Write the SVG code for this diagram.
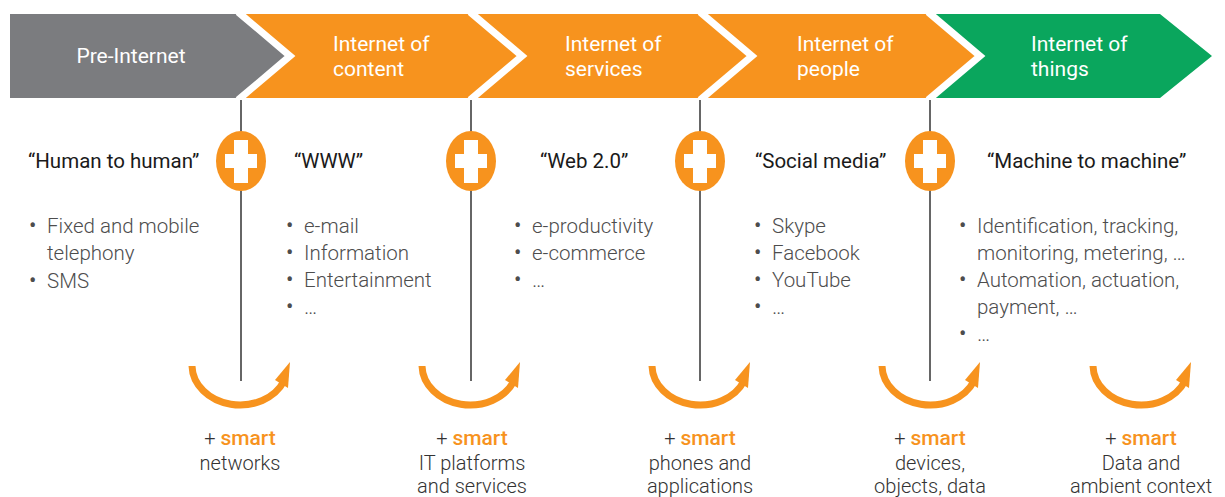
<svg xmlns="http://www.w3.org/2000/svg" width="1225" height="497" viewBox="0 0 1225 497">
<defs>
<style>
.hdr{font-family:Roboto,"Liberation Sans",sans-serif;font-size:21px;fill:#fff}
.ttl{font-family:Roboto,"Liberation Sans",sans-serif;font-size:20.5px;fill:#1a1a1a}
.bul{font-family:Roboto,"Liberation Sans",sans-serif;font-size:20.5px;fill:#4d4d4d;font-weight:300}
.dot{font-family:Roboto,"Liberation Sans",sans-serif;font-size:22px;fill:#4d4d4d}
.bot{font-family:Roboto,"Liberation Sans",sans-serif;font-size:20px;fill:#333;font-weight:300;text-anchor:middle}
.sm{fill:#f7931e;font-weight:500;font-size:21px}
.vline{stroke:#333;stroke-width:1.5}
.arc{fill:none;stroke:#f7931e;stroke-width:7}
.sep{fill:none;stroke:#fff;stroke-width:7}
</style>
<g id="plus">
<ellipse cx="0" cy="0" rx="25" ry="30" fill="#f7931e"/>
<rect x="-7" y="-21" width="14" height="43" fill="#fff"/>
<rect x="-16" y="-7" width="32" height="14" fill="#fff"/>
</g>
<g id="turn">
<path class="arc" d="M-48,0 A48,40 0 0 0 44,15"/>
<polygon points="50,-4 48,22 35,14" fill="#f7931e"/>
</g>
</defs>
<rect width="1225" height="497" fill="#fff"/>

<g id="stage-pre-internet">
<polygon points="10,14 238,14 290,56 238,98 10,98" fill="#7b7c7f"/>
<text class="hdr" x="131" y="63" text-anchor="middle">Pre-Internet</text>
</g>
<g id="stage-content">
<polygon points="238,14 470,14 522,56 470,98 238,98 290,56" fill="#f7931e"/>
<text class="hdr" x="333" y="51">Internet of</text>
<text class="hdr" x="333" y="76">content</text>
</g>
<g id="stage-services">
<polygon points="470,14 700,14 752,56 700,98 470,98 522,56" fill="#f7931e"/>
<text class="hdr" x="565" y="51">Internet of</text>
<text class="hdr" x="565" y="76">services</text>
</g>
<g id="stage-people">
<polygon points="700,14 928,14 980,56 928,98 700,98 752,56" fill="#f7931e"/>
<text class="hdr" x="797" y="51">Internet of</text>
<text class="hdr" x="797" y="76">people</text>
</g>
<g id="stage-things">
<polygon points="928,14 1160,14 1212,56 1160,98 928,98 980,56" fill="#0aa65d"/>
<text class="hdr" x="1031" y="51">Internet of</text>
<text class="hdr" x="1031" y="76">things</text>
</g>
<g id="separators">
<polyline class="sep" points="238,12 290,56 238,100"/>
<polyline class="sep" points="470,12 522,56 470,100"/>
<polyline class="sep" points="700,12 752,56 700,100"/>
<polyline class="sep" points="928,12 980,56 928,100"/>
</g>

<g id="connectors">
<line class="vline" x1="241" y1="100" x2="241" y2="381"/>
<line class="vline" x1="471" y1="100" x2="471" y2="381"/>
<line class="vline" x1="700" y1="100" x2="700" y2="381"/>
<line class="vline" x1="930" y1="100" x2="930" y2="381"/>
<use href="#turn" x="240" y="366"/>
<use href="#turn" x="470" y="366"/>
<use href="#turn" x="700" y="366"/>
<use href="#turn" x="930" y="366"/>
<use href="#turn" x="1141" y="366"/>
</g>

<g id="plus-1"><use href="#plus" x="241" y="161"/></g>
<g id="plus-2"><use href="#plus" x="471" y="161"/></g>
<g id="plus-3"><use href="#plus" x="700" y="161"/></g>
<g id="plus-4"><use href="#plus" x="930" y="161"/></g>

<g id="col-human">
<text class="ttl" x="28" y="168">“Human to human”</text>
<text class="dot" x="29" y="233">•</text><text class="bul" x="47" y="233">Fixed and mobile</text>
<text class="bul" x="47" y="260">telephony</text>
<text class="dot" x="29" y="288">•</text><text class="bul" x="47" y="288">SMS</text>
</g>
<g id="col-www">
<text class="ttl" x="294" y="168">“WWW”</text>
<text class="dot" x="286" y="233">•</text><text class="bul" x="304" y="233">e-mail</text>
<text class="dot" x="286" y="260">•</text><text class="bul" x="304" y="260">Information</text>
<text class="dot" x="286" y="287">•</text><text class="bul" x="304" y="287">Entertainment</text>
<text class="dot" x="286" y="314">•</text><text class="bul" x="304" y="314">…</text>
</g>
<g id="col-web20">
<text class="ttl" x="540" y="168">“Web 2.0”</text>
<text class="dot" x="514" y="233">•</text><text class="bul" x="532" y="233">e-productivity</text>
<text class="dot" x="514" y="260">•</text><text class="bul" x="532" y="260">e-commerce</text>
<text class="dot" x="514" y="287">•</text><text class="bul" x="532" y="287">…</text>
</g>
<g id="col-social">
<text class="ttl" x="755" y="168">“Social media”</text>
<text class="dot" x="754" y="233">•</text><text class="bul" x="772" y="233">Skype</text>
<text class="dot" x="754" y="260">•</text><text class="bul" x="772" y="260">Facebook</text>
<text class="dot" x="754" y="287">•</text><text class="bul" x="772" y="287">YouTube</text>
<text class="dot" x="754" y="314">•</text><text class="bul" x="772" y="314">…</text>
</g>
<g id="col-m2m">
<text class="ttl" x="987" y="168">“Machine to machine”</text>
<text class="dot" x="959" y="233">•</text><text class="bul" x="977" y="233">Identification, tracking,</text>
<text class="bul" x="977" y="260">monitoring, metering, …</text>
<text class="dot" x="959" y="287">•</text><text class="bul" x="977" y="287">Automation, actuation,</text>
<text class="bul" x="977" y="314">payment, …</text>
<text class="dot" x="959" y="341">•</text><text class="bul" x="977" y="341">…</text>
</g>

<g id="smart-networks">
<text class="bot" x="240" y="445">+ <tspan class="sm">smart</tspan></text>
<text class="bot" x="240" y="470">networks</text>
</g>
<g id="smart-platforms">
<text class="bot" x="472" y="445">+ <tspan class="sm">smart</tspan></text>
<text class="bot" x="472" y="470">IT platforms</text>
<text class="bot" x="472" y="493">and services</text>
</g>
<g id="smart-phones">
<text class="bot" x="700" y="445">+ <tspan class="sm">smart</tspan></text>
<text class="bot" x="700" y="470">phones and</text>
<text class="bot" x="700" y="493">applications</text>
</g>
<g id="smart-devices">
<text class="bot" x="930" y="445">+ <tspan class="sm">smart</tspan></text>
<text class="bot" x="930" y="470">devices,</text>
<text class="bot" x="930" y="493">objects, data</text>
</g>
<g id="smart-data">
<text class="bot" x="1141" y="445">+ <tspan class="sm">smart</tspan></text>
<text class="bot" x="1141" y="470">Data and</text>
<text class="bot" x="1141" y="493">ambient context</text>
</g>
</svg>
